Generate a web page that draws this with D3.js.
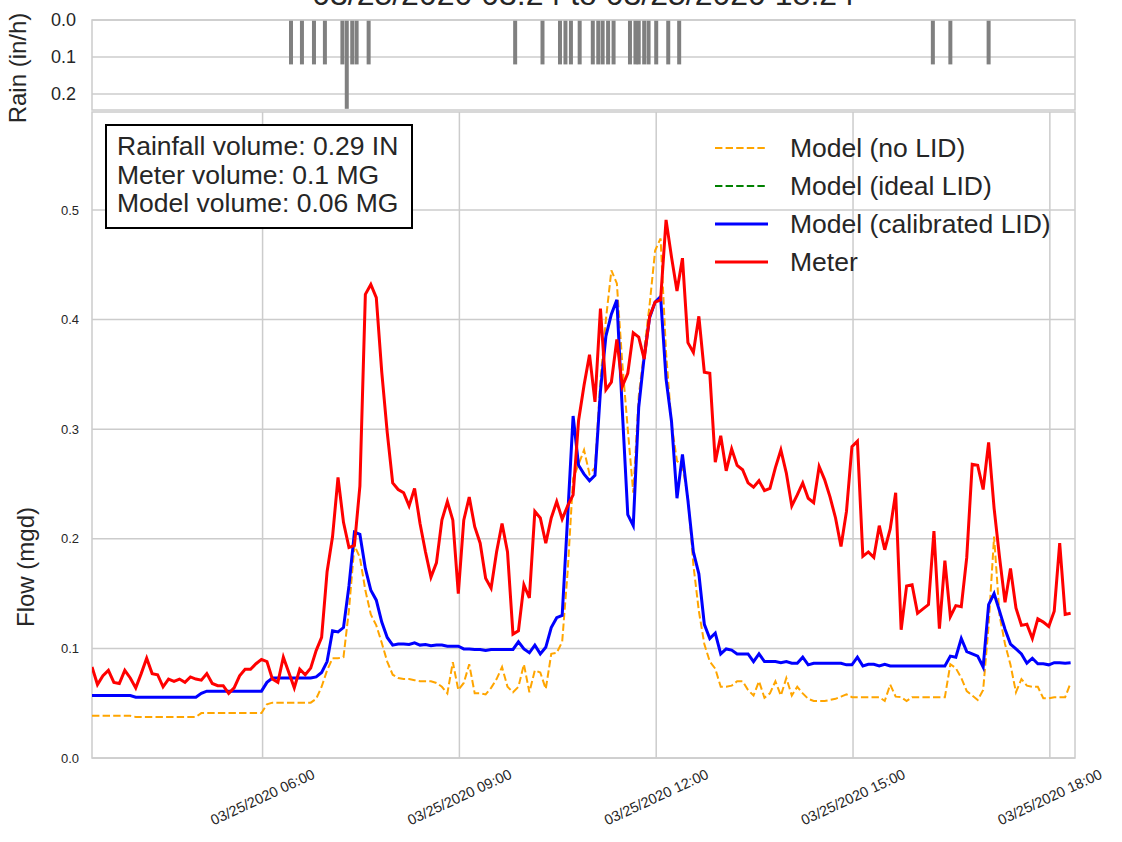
<!DOCTYPE html>
<html><head><meta charset="utf-8">
<script src="https://cdn.jsdelivr.net/npm/d3@7"></script>
<style>
body{margin:0;background:#fff;}
text{font-family:"Liberation Sans",Arial,sans-serif;fill:#262626;}
</style>
</head><body>
<svg id="c" width="1122" height="842"></svg>
<script>
// ---------- data ----------
const titleText = "03/25/2020 03:24 to 03/25/2020 18:24";
const startTime = "2020-03-25T03:24:00Z";
const endTime = "2020-03-25T18:23:00Z";
const stepMinutes = 5;

const meter = [
0.083,0.067,0.075,0.080,0.069,0.068,0.080,0.073,0.064,0.077,
0.091,0.077,0.076,0.065,0.072,0.070,0.072,0.069,0.074,0.072,
0.071,0.077,0.068,0.066,0.066,0.059,0.064,0.075,0.081,0.081,
0.086,0.090,0.088,0.072,0.069,0.092,0.078,0.064,0.081,0.076,
0.082,0.098,0.110,0.170,0.202,0.256,0.215,0.192,0.194,0.248,
0.423,0.432,0.420,0.352,0.297,0.251,0.245,0.242,0.230,0.246,
0.214,0.188,0.165,0.178,0.217,0.234,0.217,0.150,0.217,0.238,
0.211,0.196,0.164,0.155,0.188,0.214,0.188,0.113,0.116,0.158,
0.146,0.225,0.219,0.196,0.219,0.234,0.218,0.230,0.240,0.308,
0.340,0.368,0.325,0.410,0.336,0.343,0.382,0.339,0.351,0.388,
0.384,0.364,0.403,0.416,0.418,0.491,0.457,0.426,0.456,0.379,
0.370,0.403,0.352,0.351,0.270,0.294,0.262,0.282,0.267,0.263,
0.251,0.247,0.253,0.244,0.246,0.265,0.281,0.260,0.230,0.240,
0.251,0.237,0.233,0.266,0.254,0.238,0.219,0.193,0.225,0.284,
0.289,0.184,0.188,0.183,0.212,0.190,0.209,0.242,0.117,0.157,
0.158,0.132,0.136,0.140,0.207,0.118,0.180,0.129,0.139,0.138,
0.183,0.268,0.267,0.245,0.288,0.228,0.183,0.142,0.173,0.137,
0.121,0.122,0.109,0.127,0.124,0.120,0.134,0.196,0.131,0.132];

const calibrated = [
0.057,0.057,0.057,0.057,0.057,0.057,0.057,0.057,0.0555,0.0555,
0.0555,0.0555,0.0555,0.0555,0.0555,0.0555,0.0555,0.0555,0.0555,0.0555,
0.059,0.061,0.061,0.061,0.061,0.061,0.061,0.061,0.061,0.061,
0.061,0.061,0.069,0.073,0.073,0.073,0.073,0.073,0.073,0.073,
0.073,0.074,0.078,0.088,0.116,0.115,0.119,0.157,0.206,0.204,
0.173,0.153,0.144,0.124,0.110,0.103,0.104,0.104,0.1035,0.105,
0.103,0.1035,0.1025,0.103,0.103,0.102,0.102,0.102,0.0995,0.0995,
0.099,0.099,0.098,0.099,0.099,0.099,0.099,0.099,0.106,0.0995,
0.096,0.103,0.095,0.101,0.119,0.128,0.130,0.220,0.312,0.267,
0.259,0.253,0.258,0.335,0.385,0.405,0.418,0.317,0.222,0.212,
0.320,0.366,0.402,0.416,0.421,0.346,0.307,0.237,0.277,0.235,
0.188,0.168,0.122,0.109,0.114,0.095,0.0995,0.0985,0.095,0.095,
0.095,0.088,0.095,0.088,0.088,0.088,0.087,0.088,0.0865,0.0865,
0.092,0.085,0.0865,0.0865,0.0865,0.0865,0.0865,0.0865,0.085,0.085,
0.092,0.084,0.0855,0.0855,0.084,0.0855,0.084,0.084,0.084,0.084,
0.084,0.084,0.084,0.084,0.084,0.084,0.084,0.093,0.092,0.109,
0.097,0.095,0.093,0.083,0.140,0.150,0.134,0.1175,0.104,0.0995,
0.095,0.0865,0.091,0.086,0.086,0.085,0.087,0.087,0.0865,0.087];

const noLid = [
0.0385,0.0385,0.0385,0.0385,0.0385,0.0385,0.0385,0.0385,0.0375,0.0375,
0.0375,0.0375,0.0375,0.0375,0.0375,0.0375,0.0375,0.0375,0.0375,0.0375,
0.041,0.041,0.041,0.041,0.041,0.041,0.041,0.041,0.041,0.041,
0.041,0.041,0.049,0.0505,0.0505,0.0505,0.0505,0.0505,0.0505,0.0505,
0.0505,0.054,0.065,0.080,0.091,0.091,0.092,0.135,0.194,0.183,
0.153,0.131,0.121,0.105,0.088,0.076,0.073,0.072,0.072,0.071,
0.070,0.070,0.070,0.0685,0.065,0.059,0.0875,0.062,0.0685,0.0855,
0.059,0.059,0.058,0.064,0.072,0.083,0.065,0.060,0.065,0.0855,
0.060,0.080,0.078,0.063,0.095,0.096,0.106,0.170,0.255,0.268,
0.281,0.259,0.265,0.345,0.400,0.445,0.433,0.360,0.300,0.242,
0.330,0.372,0.414,0.463,0.474,0.370,0.305,0.271,0.266,0.238,
0.176,0.134,0.104,0.088,0.0815,0.065,0.065,0.066,0.070,0.070,
0.062,0.057,0.070,0.055,0.059,0.070,0.057,0.073,0.057,0.065,
0.059,0.054,0.052,0.052,0.052,0.053,0.054,0.056,0.058,0.0555,
0.0555,0.0555,0.0555,0.0555,0.0555,0.052,0.067,0.056,0.0555,0.052,
0.0555,0.0555,0.0555,0.0555,0.0555,0.0555,0.0555,0.0855,0.082,0.073,
0.061,0.057,0.053,0.062,0.121,0.202,0.130,0.104,0.085,0.060,
0.072,0.066,0.065,0.065,0.0545,0.0545,0.0555,0.0555,0.0555,0.0685];

const rainTimes = ["06:26","06:36","06:47","06:57","07:13","07:17","07:22","07:26","07:37",
"09:51","10:16","10:32","10:37","10:42","10:50","11:02","11:07","11:11","11:16","11:21",
"11:36","11:41","11:44","11:49","11:53","12:00","12:11","12:21",
"16:13","16:29","17:04"];
const rainValues = [0.12,0.12,0.12,0.12,0.12,0.24,0.12,0.12,0.12,
0.12,0.12,0.12,0.12,0.12,0.12,0.12,0.12,0.12,0.12,0.12,
0.12,0.12,0.12,0.12,0.12,0.12,0.12,0.12,
0.12,0.12,0.12];

const xTickTimes = ["06:00","09:00","12:00","15:00","18:00"];
const flowTicks = [0.0,0.1,0.2,0.3,0.4,0.5];
const rainTicks = [0.0,0.1,0.2];
const seriesLabels = ["Model (no LID)","Model (ideal LID)","Model (calibrated LID)","Meter"];
const seriesColors = ["orange","green","blue","red"];
const infoLines = ["Rainfall volume: 0.29 IN","Meter volume: 0.1 MG","Model volume: 0.06 MG"];

// ---------- layout ----------
const svg = d3.select("#c");
const L = 92, R = 1075;
const rainTop = 20, rainBot = 110;
const flowTop = 112, flowBot = 758;
const gridColor = "#cccccc";
const parse = d3.utcParse("%Y-%m-%dT%H:%M:%SZ");
const t0 = parse(startTime);
const dayStr = "2020-03-25T";
const tAt = hm => parse(dayStr + hm + ":00Z");

const x = d3.scaleUtc().domain([t0, parse(endTime)]).range([L, R]);
const yF = d3.scaleLinear().domain([0, 0.5894]).range([flowBot, flowTop]);
const yR = d3.scaleLinear().domain([0, 0.2432]).range([rainTop, rainBot]);

const times = meter.map((_, i) => d3.utcMinute.offset(t0, i * stepMinutes));

// title (mostly clipped at top)
svg.append("text").attr("x", (L + R) / 2).attr("y", 5)
  .attr("text-anchor", "middle").attr("font-size", 32).text(titleText);

// ---------- rain panel ----------
const gR = svg.append("g");
gR.append("g").selectAll("line").data(rainTicks).join("line")
  .attr("x1", L).attr("x2", R).attr("y1", d => yR(d)).attr("y2", d => yR(d))
  .attr("stroke", gridColor).attr("stroke-width", 1.5);
gR.append("g").selectAll("rect").data(rainTimes).join("rect")
  .attr("x", d => x(tAt(d)) - 2).attr("width", 4)
  .attr("y", yR(0)).attr("height", (d, i) => yR(rainValues[i]) - yR(0))
  .attr("fill", "#808080");
gR.append("rect").attr("x", L).attr("y", rainTop).attr("width", R - L).attr("height", rainBot - rainTop)
  .attr("fill", "none").attr("stroke", gridColor).attr("stroke-width", 1.5);
gR.append("g").selectAll("text").data(rainTicks).join("text")
  .attr("x", 76).attr("y", d => yR(d)).attr("dy", "0.35em")
  .attr("text-anchor", "end").attr("font-size", 18).text(d => d.toFixed(1));
svg.append("text").attr("transform", `translate(26,${(rainTop + rainBot) / 2 + 3}) rotate(-90)`)
  .attr("text-anchor", "middle").attr("font-size", 24).text("Rain (in/h)");

// ---------- flow panel ----------
const gF = svg.append("g");
gF.append("g").selectAll("line").data(flowTicks).join("line")
  .attr("x1", L).attr("x2", R).attr("y1", d => yF(d)).attr("y2", d => yF(d))
  .attr("stroke", gridColor).attr("stroke-width", 1.5);
gF.append("g").selectAll("line").data(xTickTimes).join("line")
  .attr("x1", d => x(tAt(d))).attr("x2", d => x(tAt(d)))
  .attr("y1", flowTop).attr("y2", flowBot)
  .attr("stroke", gridColor).attr("stroke-width", 1.5);
gF.append("rect").attr("x", L).attr("y", flowTop).attr("width", R - L).attr("height", flowBot - flowTop)
  .attr("fill", "none").attr("stroke", gridColor).attr("stroke-width", 1.5);

gF.append("g").selectAll("text").data(flowTicks).join("text")
  .attr("x", 79).attr("y", d => yF(d)).attr("dy", "0.35em")
  .attr("text-anchor", "end").attr("font-size", 13).text(d => d.toFixed(1));

const fmt = d3.utcFormat("%m/%d/%Y %H:%M");
gF.append("g").selectAll("text").data(xTickTimes).join("text")
  .attr("transform", d => `translate(${x(tAt(d))},797) rotate(-25)`)
  .attr("text-anchor", "middle").attr("dy", "0.35em").attr("font-size", 14.5)
  .text(d => fmt(tAt(d)));

svg.append("text").attr("transform", `translate(34,567) rotate(-90)`)
  .attr("text-anchor", "middle").attr("font-size", 24).text("Flow (mgd)");

const clip = svg.append("clipPath").attr("id", "fc").append("rect")
  .attr("x", L).attr("y", flowTop).attr("width", R - L).attr("height", flowBot - flowTop);

const line = d3.line().x((d, i) => x(times[i])).y(d => yF(d));
const gl = gF.append("g").attr("clip-path", "url(#fc)");
gl.append("path").datum(noLid).attr("d", line).attr("fill", "none")
  .attr("stroke", seriesColors[0]).attr("stroke-width", 2).attr("stroke-dasharray", "7.4,3.2");
gl.append("path").datum(calibrated).attr("d", line).attr("fill", "none")
  .attr("stroke", seriesColors[2]).attr("stroke-width", 3);
gl.append("path").datum(meter).attr("d", line).attr("fill", "none")
  .attr("stroke", seriesColors[3]).attr("stroke-width", 3);

// info box
const box = svg.append("g");
box.append("rect").attr("x", 106).attr("y", 125).attr("width", 306).attr("height", 103)
  .attr("fill", "#fff").attr("stroke", "#000").attr("stroke-width", 2);
box.selectAll("text").data(infoLines).join("text")
  .attr("x", 117).attr("y", (d, i) => 155 + i * 28.5).attr("font-size", 26.5).text(d => d);

// legend
const lg = svg.append("g");
seriesLabels.forEach((lab, i) => {
  const yy = 148 + i * 38;
  const ln = lg.append("line").attr("x1", 715).attr("x2", 768).attr("y1", yy).attr("y2", yy)
    .attr("stroke", seriesColors[i]).attr("stroke-width", i < 2 ? 2 : 3);
  if (i < 2) ln.attr("stroke-dasharray", "7.4,3.2");
  lg.append("text").attr("x", 790).attr("y", yy).attr("dy", "0.35em")
    .attr("font-size", 26.5).text(lab);
});
</script>
</body></html>
